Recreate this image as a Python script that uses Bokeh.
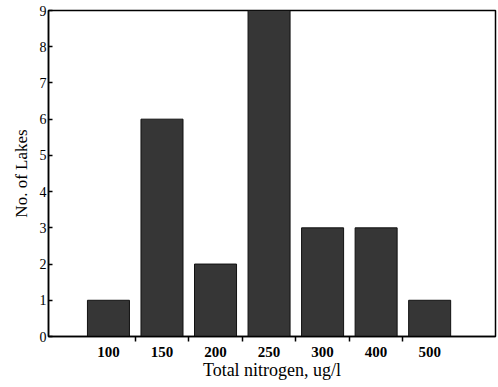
from bokeh.plotting import figure
from bokeh.models import FixedTicker, Range1d
from bokeh.embed import file_html
from bokeh.resources import INLINE

# Histogram data: number of lakes per total-nitrogen class
nitrogen_classes = ["100", "150", "200", "250", "300", "400", "500"]
lake_counts = [1, 6, 2, 9, 3, 3, 1]
y_ticks = [0, 1, 2, 3, 4, 5, 6, 7, 8, 9]

positions = list(range(len(nitrogen_classes)))

p = figure(width=498, height=387, output_backend="svg", toolbar_location=None,
           x_range=Range1d(-1.12, 7.23), y_range=Range1d(0, 9))

p.vbar(x=positions, top=lake_counts, width=0.785, bottom=0,
       fill_color="#363636", line_color="#111111", line_width=1)

p.min_border_left = 48
p.min_border_right = 3
p.min_border_top = 10
p.min_border_bottom = 51

p.xgrid.visible = False
p.ygrid.visible = False
p.outline_line_color = "black"
p.outline_line_width = 1.5
p.background_fill_color = "white"

# x axis: class labels under bars, tick marks between classes
xa = p.xaxis[0]
xa.ticker = FixedTicker(ticks=positions,
                        minor_ticks=[i + 0.5 for i in positions[:-1]])
xa.major_label_overrides = {i: lab for i, lab in zip(positions, nitrogen_classes)}
xa.major_tick_in = 0
xa.major_tick_out = 0
xa.minor_tick_in = 0
xa.minor_tick_out = 5
xa.minor_tick_line_color = "black"
xa.minor_tick_line_width = 1.5
xa.axis_line_width = 1.5
xa.axis_line_color = "black"
xa.major_label_text_font = "Liberation Serif"
xa.major_label_text_font_style = "bold"
xa.major_label_text_font_size = "15px"
xa.major_label_text_color = "black"
xa.major_label_standoff = 5
xa.axis_label = "Total nitrogen, ug/l"
xa.axis_label_text_font = "Liberation Serif"
xa.axis_label_text_font_style = "normal"
xa.axis_label_text_font_size = "18px"
xa.axis_label_text_color = "black"
xa.axis_label_standoff = 0

ya = p.yaxis[0]
ya.ticker = FixedTicker(ticks=y_ticks, minor_ticks=[])
ya.major_tick_in = 4
ya.major_tick_out = 0
ya.axis_line_width = 1.5
ya.axis_line_color = "black"
ya.major_tick_line_width = 1.5
ya.major_tick_line_color = "black"
ya.major_label_text_font = "Liberation Serif"
ya.major_label_text_font_size = "14px"
ya.major_label_text_color = "black"
ya.major_label_standoff = 2
ya.axis_label = "No. of Lakes"
ya.axis_label_text_font = "Liberation Serif"
ya.axis_label_text_font_style = "normal"
ya.axis_label_text_font_size = "17px"
ya.axis_label_text_color = "black"
ya.axis_label_standoff = 6

open("out.html", "w").write(file_html(p, INLINE))
